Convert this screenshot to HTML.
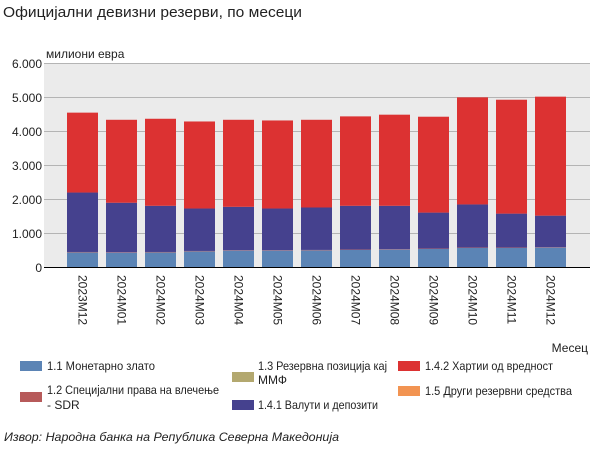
<!DOCTYPE html>
<html><head><meta charset="utf-8"><style>
body{margin:0;background:#fff;width:600px;height:450px;overflow:hidden;font-family:"Liberation Sans","DejaVu Sans",sans-serif}
</style></head><body>
<svg width="600" height="450" xmlns="http://www.w3.org/2000/svg" font-family="Liberation Sans, DejaVu Sans, sans-serif">
<text x="3" y="17" font-size="15" fill="#222" textLength="299" lengthAdjust="spacingAndGlyphs">Официјални девизни резерви, по месеци</text>
<text x="46" y="58" font-size="12" fill="#222">милиони евра</text>
<rect x="44" y="63" width="546" height="204" fill="#ebebeb"/>
<g stroke="#b4b4b4" stroke-width="1">
<line x1="44" x2="590" y1="63.5" y2="63.5"/><line x1="44" x2="590" y1="97.5" y2="97.5"/>
<line x1="44" x2="590" y1="131.5" y2="131.5"/><line x1="44" x2="590" y1="165.5" y2="165.5"/>
<line x1="44" x2="590" y1="199.5" y2="199.5"/><line x1="44" x2="590" y1="233.5" y2="233.5"/>
</g>
<g font-size="12" fill="#222" text-anchor="end">
<text x="42" y="68">6.000</text><text x="42" y="102">5.000</text><text x="42" y="136">4.000</text>
<text x="42" y="170">3.000</text><text x="42" y="204">2.000</text><text x="42" y="238">1.000</text><text x="42" y="272">0</text>
</g>
<g id="bars"></g>
<line x1="44" x2="590" y1="267.5" y2="267.5" stroke="#000"/>
<g id="labels" font-size="12" fill="#222"></g>
<text x="588" y="352" font-size="12" fill="#222" text-anchor="end">Месец</text>
<g font-size="12" fill="#222" lengthAdjust="spacingAndGlyphs">
<rect x="20" y="361" width="22" height="10" fill="#5b84b5"/><text x="47" y="370" textLength="108" lengthAdjust="spacingAndGlyphs">1.1 Монетарно злато</text>
<rect x="20" y="392" width="22" height="10" fill="#b75a5a"/><text x="47" y="394" textLength="172" lengthAdjust="spacingAndGlyphs">1.2  Специјални права на влечење</text><text x="47" y="409">- SDR</text>
<rect x="232" y="372" width="22" height="10" fill="#b3a86f"/><text x="258" y="370" textLength="129" lengthAdjust="spacingAndGlyphs">1.3 Резервна позиција кај</text><text x="258" y="384">ММФ</text>
<rect x="232" y="400" width="22" height="10" fill="#45418e"/><text x="258" y="409" textLength="120" lengthAdjust="spacingAndGlyphs">1.4.1 Валути и депозити</text>
<rect x="398" y="361" width="22" height="10" fill="#dc3232"/><text x="425" y="370" textLength="128" lengthAdjust="spacingAndGlyphs">1.4.2 Хартии од вредност</text>
<rect x="398" y="386" width="22" height="10" fill="#f29452"/><text x="425" y="395" textLength="147" lengthAdjust="spacingAndGlyphs">1.5 Други резервни средства</text>
</g>
<text x="4" y="441" font-size="12" font-style="italic" fill="#222" textLength="335" lengthAdjust="spacingAndGlyphs">Извор: Народна банка на Република Северна Македонија</text>
</svg>
<script>
var d=[["2023M12",4540,2190,430],["2024M01",4330,1890,420],["2024M02",4360,1800,430],["2024M03",4280,1720,460],["2024M04",4330,1770,480],["2024M05",4310,1720,480],["2024M06",4330,1750,490],["2024M07",4430,1800,500],["2024M08",4480,1800,510],["2024M09",4420,1600,530],["2024M10",4990,1840,560],["2024M11",4920,1570,560],["2024M12",5010,1510,570]];
var ns="http://www.w3.org/2000/svg",b=document.getElementById("bars"),l=document.getElementById("labels");
function y(v){return 267-v*0.034}
function r(x,v1,v2,c){var e=document.createElementNS(ns,"rect");e.setAttribute("x",x);e.setAttribute("width",31);e.setAttribute("y",y(v2));e.setAttribute("height",y(v1)-y(v2));e.setAttribute("fill",c);b.appendChild(e)}
d.forEach(function(a,i){var cx=82.5+i*39,x=cx-15.5;
r(x,0,a[3],"#5b84b5");r(x,a[3],a[3]+12,"#b75a5a");r(x,a[3]+12,a[2],"#45418e");r(x,a[2],a[1],"#dc3232");
var t=document.createElementNS(ns,"text");t.setAttribute("transform","translate("+(cx-4)+",275) rotate(90)");t.textContent=a[0];l.appendChild(t)});
</script>
</body></html>
